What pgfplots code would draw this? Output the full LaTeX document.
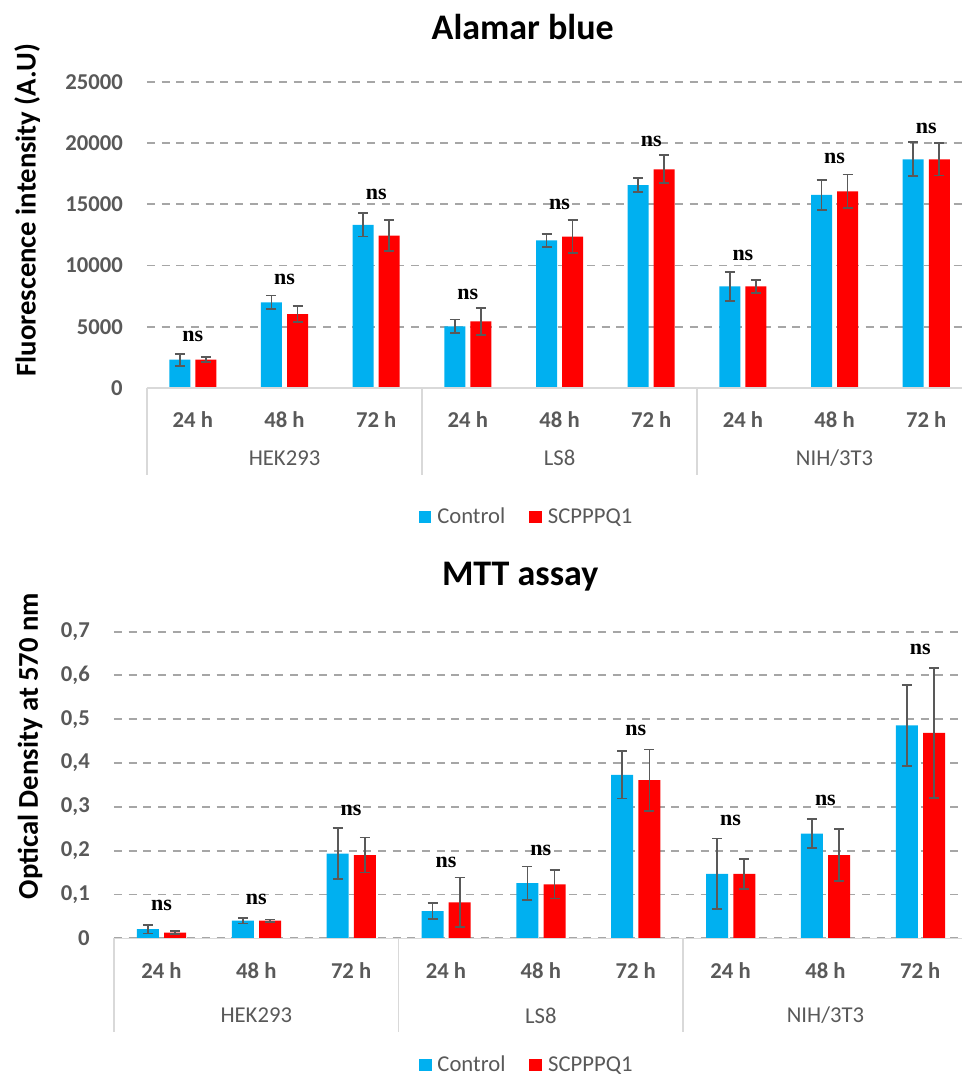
\documentclass[border=0pt]{standalone}
\usepackage{pgfplots}
\pgfplotsset{compat=1.18}
\usepackage{pgfplotstable}
\usepackage{fontspec}
\setmainfont{Carlito}
\newfontfamily\tnr{Liberation Serif}
\definecolor{cblue}{HTML}{00B0F0}
\definecolor{cred}{HTML}{FF0000}
\definecolor{txtgray}{HTML}{595959}
\definecolor{errgray}{HTML}{595959}
\definecolor{gridgray}{HTML}{A6A6A6}
\definecolor{linegray}{HTML}{D9D9D9}

\pgfplotstableread{
x b be r re
0 2310 490 2310 200
1 6980 560 6030 660
2 13310 950 12440 1250
3 5030 570 5430 1090
4 12040 520 12360 1330
5 16570 570 17850 1140
6 8290 1200 8290 530
7 15760 1220 16060 1360
8 18670 1390 18670 1320
}\alamar

\pgfplotstableread{
x b be r re
0 0.021 0.010 0.013 0.004
1 0.040 0.006 0.040 0.003
2 0.193 0.058 0.190 0.040
3 0.062 0.018 0.082 0.057
4 0.126 0.038 0.123 0.032
5 0.373 0.054 0.361 0.070
6 0.147 0.081 0.147 0.034
7 0.239 0.033 0.190 0.059
8 0.486 0.092 0.469 0.148
}\mtt

\tikzset{
  nsl/.style={font=\tnr\fontsize{16.5}{18}\selectfont\bfseries, inner sep=0pt},
  grpl/.style={font=\fontsize{17}{20}\selectfont, text=txtgray},
  sep/.style={linegray, line width=1.1pt},
}

\pgfplotsset{
  common/.style={
    scale only axis,
    anchor=south west,
    clip=false,
    axis line style={draw=none},
    xmin=-0.5,
    ymin=0,
    xtick={0,...,8},
    xticklabels={24 h,48 h,72 h,24 h,48 h,72 h,24 h,48 h,72 h},
    major tick length=0pt,
    xticklabel style={anchor=center, yshift=-24pt, font=\fontsize{17}{20}\selectfont\bfseries, text=txtgray},
    yticklabel style={anchor=east, inner sep=0pt, xshift=-18pt, font=\fontsize{17}{20}\selectfont\bfseries, text=txtgray},
    /pgf/number format/assume math mode=true,
    scaled y ticks=false,
    ymajorgrids,
    major grid style={gridgray, line width=1.4pt, dash pattern=on 6pt off 5pt},
    legend columns=2,
    legend style={draw=none, fill=none, font=\fontsize{17}{20}\selectfont, text=txtgray,
      anchor=center, /tikz/every even column/.append style={column sep=16pt}},
    legend image code/.code={\fill[##1,draw=none] (0pt,-4.8pt) rectangle (9.6pt,4.8pt); \path (12pt,0pt);},
    error bars/y dir=both,
    error bars/y explicit,
    error bars/error bar style={color=errgray, line width=1.3pt},
    error bars/error mark options={rotate=90, mark size=3.75pt, line width=1.3pt, color=errgray},
  },
}

\begin{document}
\begin{tikzpicture}
\useasboundingbox (0,0) rectangle (721.5pt,807pt);

% ---------------- Alamar blue ----------------
\begin{axis}[common,
  at={(110.25pt,516pt)},
  width=611.25pt, height=229.7pt,
  xmax=8.39, ymax=25000,
  ytick={0,5000,10000,15000,20000,25000},
  /pgf/number format/1000 sep={},
  legend style={at={(axis description cs:0.466,-0.421)}},
]
\addplot[ybar, bar width=15.75pt, bar shift=0pt, fill=cblue, draw=none]
  table[x expr=\thisrow{x}-0.142, y=b, y error=be] {\alamar};
\addlegendentry{Control}
\addplot[ybar, bar width=15.75pt, bar shift=0pt, fill=cred, draw=none]
  table[x expr=\thisrow{x}+0.142, y=r, y error=re] {\alamar};
\addlegendentry{SCPPPQ1}

\draw[sep] (axis cs:-0.5,0) -- (axis cs:8.39,0);
\draw[sep] (axis cs:-0.5,0) -- ([yshift=-65pt]axis cs:-0.5,0);
\draw[sep] (axis cs:2.5,0) -- ([yshift=-65pt]axis cs:2.5,0);
\draw[sep] (axis cs:5.5,0) -- ([yshift=-65pt]axis cs:5.5,0);
\node[grpl] at ([yshift=-52.5pt]axis cs:1,0) {HEK293};
\node[grpl] at ([yshift=-52.5pt]axis cs:4,0) {LS8};
\node[grpl] at ([yshift=-52.5pt]axis cs:7,0) {NIH/3T3};
\node[nsl] at (axis cs:0,4211) {ns};
\node[nsl] at (axis cs:1,8830) {ns};
\node[nsl] at (axis cs:2,15813) {ns};
\node[nsl] at (axis cs:3,7608) {ns};
\node[nsl] at (axis cs:4,15025) {ns};
\node[nsl] at (axis cs:5,20106) {ns};
\node[nsl] at (axis cs:6,10787) {ns};
\node[nsl] at (axis cs:7,18747) {ns};
\node[nsl] at (axis cs:8,21193) {ns};
\node[font=\fontsize{27}{32}\selectfont\bfseries] at (axis description cs:0.461,1.179) {Alamar blue};
\node[rotate=90, font=\fontsize{21.5}{25}\selectfont\bfseries] at (axis description cs:-0.147,0.581) {Fluorescence intensity (A.U)};
\end{axis}

% ---------------- MTT assay ----------------
\begin{axis}[common,
  at={(85.5pt,103.3pt)},
  width=636pt, height=230pt,
  xmax=8.44, ymax=0.7,
  ytick={0,0.1,0.2,0.3,0.4,0.5,0.6,0.7},
  yticklabel style={/pgf/number format/fixed, /pgf/number format/precision=1, /pgf/number format/use comma},
  legend style={at={(axis description cs:0.487,-0.413)}},
]
\addplot[ybar, bar width=16.5pt, bar shift=0pt, fill=cblue, draw=none]
  table[x expr=\thisrow{x}-0.142, y=b, y error=be] {\mtt};
\addlegendentry{Control}
\addplot[ybar, bar width=16.5pt, bar shift=0pt, fill=cred, draw=none]
  table[x expr=\thisrow{x}+0.145, y=r, y error=re] {\mtt};
\addlegendentry{SCPPPQ1}

\draw[sep] (axis cs:-0.5,0) -- (axis cs:8.44,0);
\draw[sep] (axis cs:-0.5,0) -- ([yshift=-70pt]axis cs:-0.5,0);
\draw[sep] (axis cs:2.5,0) -- ([yshift=-70pt]axis cs:2.5,0);
\draw[sep] (axis cs:5.5,0) -- ([yshift=-70pt]axis cs:5.5,0);
\node[grpl] at ([yshift=-58pt]axis cs:1,0) {HEK293};
\node[grpl] at ([yshift=-58pt]axis cs:4,0) {LS8};
\node[grpl] at ([yshift=-58pt]axis cs:7,0) {NIH/3T3};
\node[nsl] at (axis cs:0,0.0761) {ns};
\node[nsl] at (axis cs:1,0.0898) {ns};
\node[nsl] at (axis cs:2,0.2907) {ns};
\node[nsl] at (axis cs:3,0.1735) {ns};
\node[nsl] at (axis cs:4,0.2001) {ns};
\node[nsl] at (axis cs:5,0.4733) {ns};
\node[nsl] at (axis cs:6,0.270) {ns};
\node[nsl] at (axis cs:7,0.3143) {ns};
\node[nsl] at (axis cs:8,0.6583) {ns};
\node[font=\fontsize{27}{32}\selectfont\bfseries] at (axis description cs:0.479,1.178) {MTT assay};
\node[rotate=90, font=\fontsize{21.5}{25}\selectfont\bfseries] at (axis description cs:-0.099,0.627) {Optical Density at 570 nm};
\end{axis}
\end{tikzpicture}
\end{document}
